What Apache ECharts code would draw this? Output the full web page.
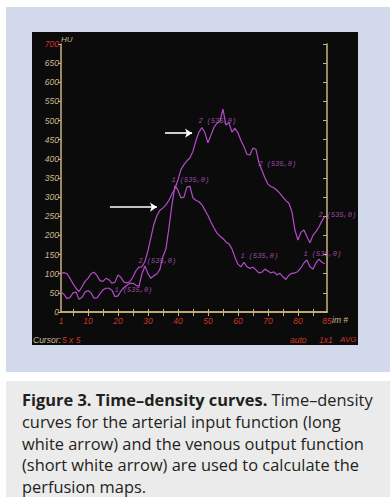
<!DOCTYPE html>
<html>
<head>
<meta charset="utf-8">
<script src="https://cdn.jsdelivr.net/npm/echarts@6/dist/echarts.min.js"></script>
<style>
  html, body { margin: 0; padding: 0; background: #ffffff; width: 390px; height: 497px; overflow: hidden; }
  #bg { position: absolute; left: 6px; top: 7px; width: 384px; height: 365px; background: #d2d9ea; }
  #chart { position: absolute; left: 32px; top: 32px; width: 326px; height: 313px; }
  #cap { position: absolute; left: 6px; top: 381px; width: 384px; height: 116px; background: #ebebeb;
         box-sizing: border-box; padding: 8px 0 0 16px; font-family: 'Open Sans', sans-serif; font-size: 16.4px;
         line-height: 21.8px; color: #231f20; white-space: nowrap; }
  #cap b { font-weight: 700; }
</style>
</head>
<body>
<div id="bg"></div>
<div id="chart"></div>
<div id="cap"><b>Figure 3. Time–density curves.</b> Time–density<br>curves for the arterial input function (long<br>white arrow) and the venous output function<br>(short white arrow) are used to calculate the<br>perfusion maps.</div>
<script>
// ---- data (frame number 1..89, HU values) ----
const curve1 = [53,46,35,38,50,52,33,38,52,56, 50,36,37,48,58,62,62,57,40,42,
                55,64,70,75,75,70,67,100,120,100, 88,95,100,112,145,165,220,280,330,318,
                298,300,327,328,298,292,288,280,266,252, 235,220,206,198,192,183,178,165,143,125,
                118,130,118,114,117,110,102,104,112,107, 102,105,97,101,92,85,96,101,102,106,
                115,128,136,118,112,128,138,130,126];
const curve2 = [101,103,100,88,74,62,53,66,80,88, 100,104,95,82,80,88,84,75,78,97,
                90,78,76,79,92,108,117,118,132,160, 195,230,252,266,272,280,292,308,322,345,
                372,385,395,403,420,448,470,482,468,442, 462,482,493,498,530,488,495,470,480,468,
                448,432,412,410,428,425,390,370,350,334, 328,324,318,310,300,291,284,262,214,188,
                208,214,197,181,200,210,222,238,250];
const curve1LabelFrames = [20, 39, 62, 83];
const curve2LabelFrames = [28, 48, 68, 88];
const curve1LabelText = '1 (535,0)';
const curve2LabelText = '2 (535,0)';
const xMaxFrame = 89.7;
const xTickValues = [1, 10, 20, 30, 40, 50, 60, 70, 80, xMaxFrame];
const xTickLabels = ['1', '10', '20', '30', '40', '50', '60', '70', '80', '85'];
const xMinorTicks = [5,10,15,20,25,30,35,40,45,50,55,60,65,70,75,80,85];
const longArrow = { from: [17.3, 274], to: [33, 274] };
const shortArrow = { from: [35.7, 467], to: [44.7, 467] };

// ---- styling ----
const CREAM = '#cbb98c';
const RED = '#cc3526';
const AXIS = '#c9b47e';
const CURVE = '#b44cc8';
const FONT = "'Liberation Sans', sans-serif";

const toPairs = arr => arr.map((v, i) => [i + 1, v]);
const labelPts = (arr, frames) => frames.map(f => [f, arr[f - 1]]);

const chart = echarts.init(document.getElementById('chart'), null, { renderer: 'svg' });

const labelStyle = {
  show: true, position: 'right', distance: 0, offset: [-4, -6],
  color: '#c060d0', fontFamily: "'Liberation Mono', monospace", fontSize: 7, fontStyle: 'italic'
};

chart.setOption({
  backgroundColor: '#0b0b0b',
  animation: false,
  grid: { left: 29, top: 12, right: 31, bottom: 33 },
  xAxis: [
    {
      type: 'value', position: 'bottom', min: 1, max: xMaxFrame,
      axisLine: { show: true, lineStyle: { color: AXIS, width: 1.5 } },
      axisTick: { show: true, inside: true, length: 3, customValues: xMinorTicks, lineStyle: { color: AXIS } },
      axisLabel: {
        show: true, customValues: xTickValues, margin: 4, color: RED,
        fontFamily: FONT, fontSize: 8.5, fontStyle: 'italic',
        formatter: v => { const i = xTickValues.indexOf(v); return i >= 0 ? xTickLabels[i] : ''; }
      },
      splitLine: { show: false }
    },
    {
      type: 'value', position: 'top', min: 1, max: xMaxFrame,
      axisLine: { show: true, lineStyle: { color: AXIS, width: 1.5 } },
      axisTick: { show: true, inside: true, length: 4, customValues: xMinorTicks, lineStyle: { color: AXIS } },
      axisLabel: { show: false },
      splitLine: { show: false }
    }
  ],
  yAxis: [
    {
      type: 'value', position: 'left', min: 0, max: 700, interval: 50,
      axisLine: { show: true, lineStyle: { color: AXIS, width: 1.5 } },
      axisTick: { show: true, inside: false, length: 3, lineStyle: { color: AXIS } },
      axisLabel: {
        margin: 2, fontFamily: FONT, fontSize: 8.5, fontStyle: 'italic',
        color: v => (Number(v) === 700 ? RED : CREAM)
      },
      splitLine: { show: false }
    },
    {
      type: 'value', position: 'right', min: 0, max: 700, interval: 50,
      axisLine: { show: true, lineStyle: { color: AXIS, width: 1.5 } },
      axisTick: { show: true, inside: true, length: 4, lineStyle: { color: AXIS } },
      axisLabel: { show: false },
      splitLine: { show: false }
    }
  ],
  series: [
    {
      name: 'curve1', type: 'line', data: toPairs(curve1), showSymbol: false,
      lineStyle: { color: CURVE, width: 1.2 }, z: 3
    },
    {
      name: 'curve2', type: 'line', data: toPairs(curve2), showSymbol: false,
      lineStyle: { color: CURVE, width: 1.2 }, z: 3,
      markLine: {
        silent: true, symbol: ['none', 'arrow'], symbolSize: [7, 7],
        lineStyle: { color: '#ffffff', width: 1.6, type: 'solid' },
        label: { show: false },
        data: [
          [{ coord: longArrow.from }, { coord: longArrow.to }],
          [{ coord: shortArrow.from }, { coord: shortArrow.to }]
        ]
      }
    },
    {
      name: 'labels1', type: 'scatter', data: labelPts(curve1, curve1LabelFrames),
      symbolSize: 1, itemStyle: { color: 'rgba(0,0,0,0)' },
      label: Object.assign({}, labelStyle, { formatter: curve1LabelText }), z: 4
    },
    {
      name: 'labels2', type: 'scatter', data: labelPts(curve2, curve2LabelFrames),
      symbolSize: 1, itemStyle: { color: 'rgba(0,0,0,0)' },
      label: Object.assign({}, labelStyle, { formatter: curve2LabelText }), z: 4
    }
  ],
  graphic: [
    { type: 'text', left: 29, top: 3, style: { text: 'HU', fill: CREAM, font: "italic 8px 'Liberation Sans'" } },
    { type: 'text', left: 300, top: 283, style: { text: 'im #', fill: CREAM, font: "italic 8.5px 'Liberation Sans'" } },
    { type: 'text', left: 1, top: 303, style: { text: 'Cursor:', fill: CREAM, font: "italic 8.5px 'Liberation Sans'" } },
    { type: 'text', left: 30, top: 303, style: { text: '5 x 5', fill: RED, font: "italic 8.5px 'Liberation Sans'" } },
    { type: 'text', left: 258, top: 303, style: { text: 'auto', fill: RED, font: "italic 8.5px 'Liberation Sans'" } },
    { type: 'text', left: 287, top: 303, style: { text: '1x1', fill: RED, font: "italic 8.5px 'Liberation Sans'" } },
    { type: 'text', left: 308, top: 303, style: { text: 'AVG', fill: RED, font: "italic 8px 'Liberation Sans'" } }
  ]
});
</script>
</body>
</html>
